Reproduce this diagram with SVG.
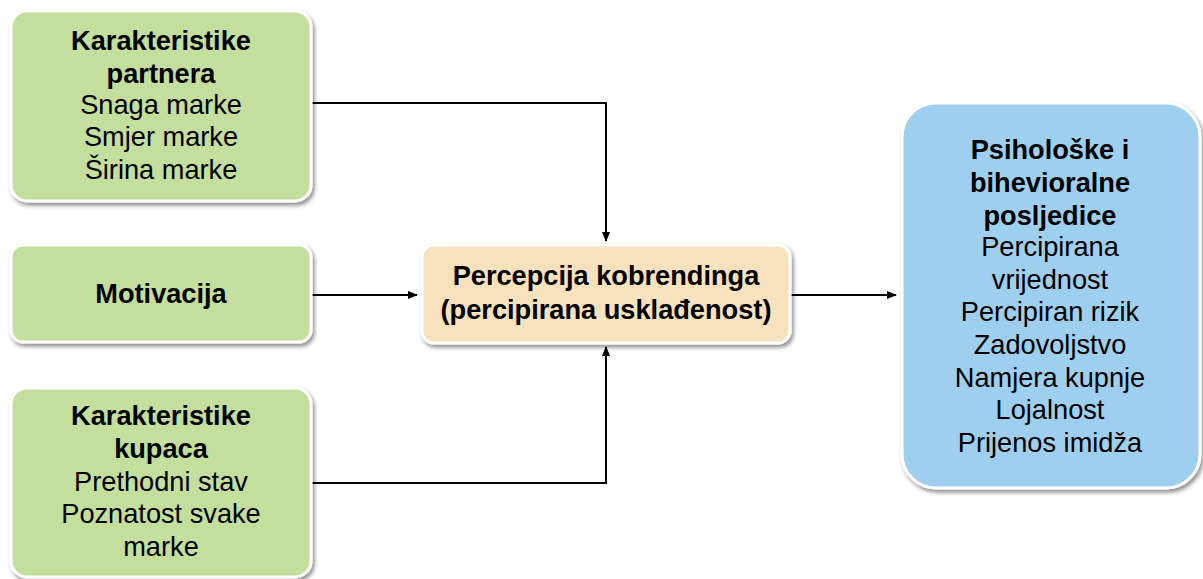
<svg xmlns="http://www.w3.org/2000/svg" width="1203" height="579" viewBox="0 0 1203 579">
<style>
.box{stroke:#ffffff;stroke-width:3;filter:url(#sh)}
.g{fill:#c4df9d}
.p{fill:#f8e2bd}
.b{fill:#9fcfef}
text{font-family:"Liberation Sans",Arial,sans-serif;font-size:27.2px;fill:#000;text-anchor:middle}
.h{font-weight:bold}
.c{fill:none;stroke:#000;stroke-width:2;marker-end:url(#ar)}
</style>
<defs>
<filter id="sh" x="-10%" y="-10%" width="125%" height="125%">
<feGaussianBlur in="SourceAlpha" stdDeviation="2"/>
<feOffset dx="2" dy="3" result="o"/>
<feComponentTransfer><feFuncA type="linear" slope="0.45"/></feComponentTransfer>
<feMerge><feMergeNode/><feMergeNode in="SourceGraphic"/></feMerge>
</filter>
<marker id="ar" markerWidth="10" markerHeight="8" refX="9" refY="4" orient="auto" markerUnits="userSpaceOnUse">
<path d="M0,0 L10,4 L0,8 z" fill="#000"/>
</marker>
</defs>
<g id="connectors">
<path class="c" d="M312,103 H606 V241"/>
<path class="c" d="M312,295 H417"/>
<path class="c" d="M312,483 H606 V347"/>
<path class="c" d="M790,295 H896"/>
</g>
<g id="partner">
<rect class="box g" x="11" y="11" width="300" height="190" rx="16"/>
<text class="h" x="161" y="50">Karakteristike</text>
<text class="h" x="161" y="83">partnera</text>
<text x="161" y="114">Snaga marke</text>
<text x="161" y="146">Smjer marke</text>
<text x="161" y="179">Širina marke</text>
</g>
<g id="motivacija">
<rect class="box g" x="11" y="245" width="300" height="97" rx="12"/>
<text class="h" x="161" y="303">Motivacija</text>
</g>
<g id="kupci">
<rect class="box g" x="11" y="388" width="300" height="189" rx="16"/>
<text class="h" x="161" y="425">Karakteristike</text>
<text class="h" x="161" y="458">kupaca</text>
<text x="161" y="491">Prethodni stav</text>
<text x="161" y="523">Poznatost svake</text>
<text x="161" y="556">marke</text>
</g>
<g id="percepcija">
<rect class="box p" x="422" y="245" width="368" height="98" rx="12"/>
<text class="h" x="606" y="285">Percepcija kobrendinga</text>
<text class="h" x="606" y="319">(percipirana usklađenost)</text>
</g>
<g id="posljedice">
<rect class="box b" x="902" y="103" width="298" height="385" rx="34"/>
<text class="h" x="1050" y="159">Psihološke i</text>
<text class="h" x="1050" y="192">bihevioralne</text>
<text class="h" x="1050" y="225">posljedice</text>
<text x="1050" y="256">Percipirana</text>
<text x="1050" y="289">vrijednost</text>
<text x="1050" y="321">Percipiran rizik</text>
<text x="1050" y="354">Zadovoljstvo</text>
<text x="1050" y="387">Namjera kupnje</text>
<text x="1050" y="419">Lojalnost</text>
<text x="1050" y="452">Prijenos imidža</text>
</g>
</svg>
